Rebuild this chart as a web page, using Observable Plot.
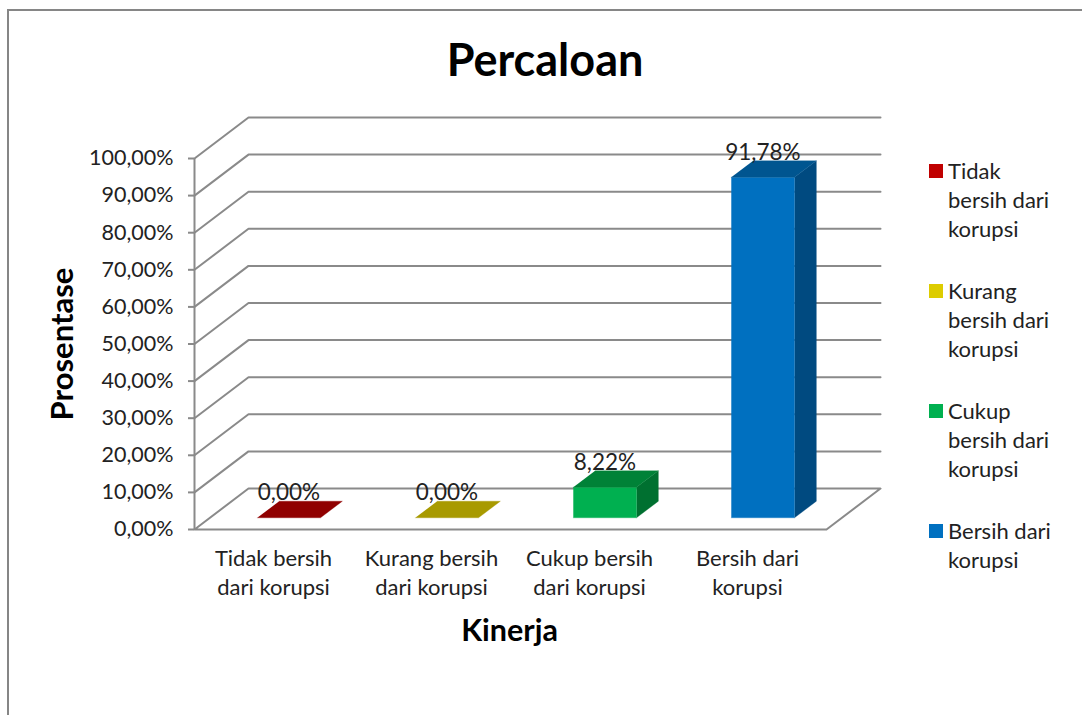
<!DOCTYPE html>
<html>
<head>
<meta charset="utf-8">
<script src="https://cdn.jsdelivr.net/npm/d3@7"></script>
<script src="https://cdn.jsdelivr.net/npm/@observablehq/plot@0.6"></script>
<style>
  html, body { margin: 0; padding: 0; background: #fff; overflow: hidden; }
  #chart { position: relative; width: 1082px; height: 715px; font-family: Lato, sans-serif; color: #222; }
  #chart svg { position: absolute; left: 0; top: 0; }
  #frame { position: absolute; left: 7px; top: 9px; width: 1090px; height: 720px; border: 2px solid #868686; box-sizing: border-box; }
  h1 { position: absolute; left: 0; width: 1090px; top: 32px; margin: 0; text-align: center; font: 700 45px/54px Lato, sans-serif; color: #000; }
  #legend { position: absolute; left: 929px; top: 156px; font-size: 22px; line-height: 29px; }
  .item { position: absolute; left: 0; width: 150px; padding-left: 19px; box-sizing: border-box; }
  .sw { position: absolute; left: 0; top: 8px; width: 14px; height: 14px; }
</style>
</head>
<body>
<div id="chart">
  <div id="frame"></div>
  <h1>Percaloan</h1>
  <div id="legend"></div>
</div>
<script>
const categories = ["Tidak bersih dari korupsi", "Kurang bersih dari korupsi", "Cukup bersih dari korupsi", "Bersih dari korupsi"];
const axisLabels = ["Tidak bersih\ndari korupsi", "Kurang bersih\ndari korupsi", "Cukup bersih\ndari korupsi", "Bersih dari\nkorupsi"];
const legendLabels = ["Tidak<br>bersih dari<br>korupsi", "Kurang<br>bersih dari<br>korupsi", "Cukup<br>bersih dari<br>korupsi", "Bersih dari<br>korupsi"];
const values = [0, 0, 8.22, 91.78];
const valueLabels = ["0,00%", "0,00%", "8,22%", "91,78%"];
const yTicks = [0, 10, 20, 30, 40, 50, 60, 70, 80, 90, 100];
const yTickLabels = ["0,00%", "10,00%", "20,00%", "30,00%", "40,00%", "50,00%", "60,00%", "70,00%", "80,00%", "90,00%", "100,00%"];
const faceColors = ["#C00000", "#DDCC00", "#00B050", "#0070C0"];
const topColors = ["#900000", "#A89A00", "#008237", "#005590"];
const sideColors = ["#800000", "#8F8400", "#007030", "#004A80"];

// oblique projection of the 3D box: depth t (0 front, 1 back wall)
const depthX = 0.3418, depthY = 11.05;
const halfBar = 0.2, barFront = 0.285, barBack = 0.69;
const gridColor = "#8a8a8a";
const P = (c, v, t) => ({x: c + t * depthX, y: v + t * depthY});
const poly = (pts, color) => Plot.line(pts, {x: "x", y: "y", fill: color, stroke: color, strokeWidth: 0.3, curve: "linear"});

const marks = [];
// back wall and left wall gridlines
for (const v of yTicks.slice(1)) {
  marks.push(Plot.line([P(0, v, 0), P(0, v, 1), P(4, v, 1)], {x: "x", y: "y", stroke: gridColor, strokeWidth: 2}));
}
// floor
marks.push(Plot.line([P(0, 0, 0), P(4, 0, 0), P(4, 0, 1), P(0, 0, 1), P(0, 0, 0)], {x: "x", y: "y", stroke: gridColor, strokeWidth: 2}));
// left axis line
marks.push(Plot.ruleX([0], {y1: 0, y2: 100, stroke: gridColor, strokeWidth: 2}));
// bars
values.forEach((v, i) => {
  const c = i + 0.5, l = c - halfBar, r = c + halfBar;
  if (v > 0) {
    marks.push(poly([P(r, 0, barFront), P(r, 0, barBack), P(r, v, barBack), P(r, v, barFront)], sideColors[i]));
    marks.push(poly([P(l, 0, barFront), P(r, 0, barFront), P(r, v, barFront), P(l, v, barFront)], faceColors[i]));
  }
  marks.push(poly([P(l, v, barFront), P(r, v, barFront), P(r, v, barBack), P(l, v, barBack)], topColors[i]));
});
// value labels
marks.push(Plot.text(values, {
  x: (v, i) => P(i + 0.5, v, barFront).x,
  y: (v, i) => P(i + 0.5, v, barFront).y,
  text: (v, i) => valueLabels[i],
  dx: 0, dy: -25, fontSize: 22.5, fill: "#222"
}));
// axes
marks.push(Plot.axisY({
  ticks: yTicks, tickFormat: (d) => yTickLabels[yTicks.indexOf(d)],
  tickSize: 6, tickPadding: 15, fontSize: 21.5, stroke: gridColor, strokeWidth: 2, strokeOpacity: 1, fill: "#222", label: null
}));
marks.push(Plot.axisX({
  ticks: [0.5, 1.5, 2.5, 3.5], tickFormat: (d) => axisLabels[Math.floor(d)],
  tickSize: 0, tickPadding: 16, fontSize: 22, lineHeight: 1.32, fill: "#222", label: null
}));
marks.push(Plot.text(["Prosentase"], {frameAnchor: "left", textAnchor: "middle", rotate: -90, dx: -131, fontSize: 31, fontWeight: "bold", fill: "#000"}));
marks.push(Plot.text(["Kinerja"], {frameAnchor: "bottom", dx: -1, dy: 111, fontSize: 30.5, fontWeight: "bold", fill: "#000"}));

const plot = Plot.plot({
  width: 1082, height: 715,
  marginLeft: 194, marginRight: 256, marginTop: 158, marginBottom: 186,
  x: {domain: [0, 4], axis: null},
  y: {domain: [0, 100], axis: null},
  style: {background: "transparent", fontFamily: "Lato, sans-serif", overflow: "visible"},
  marks
});
document.getElementById("chart").prepend(plot);

// legend
const legend = document.getElementById("legend");
const legendTops = [0, 120, 240, 360];
categories.forEach((name, i) => {
  const el = document.createElement("div");
  el.className = "item";
  el.style.top = legendTops[i] + "px";
  el.setAttribute("aria-label", name);
  el.innerHTML = `<span class="sw" style="background:${faceColors[i]}"></span>${legendLabels[i]}`;
  legend.appendChild(el);
});
</script>
</body>
</html>
